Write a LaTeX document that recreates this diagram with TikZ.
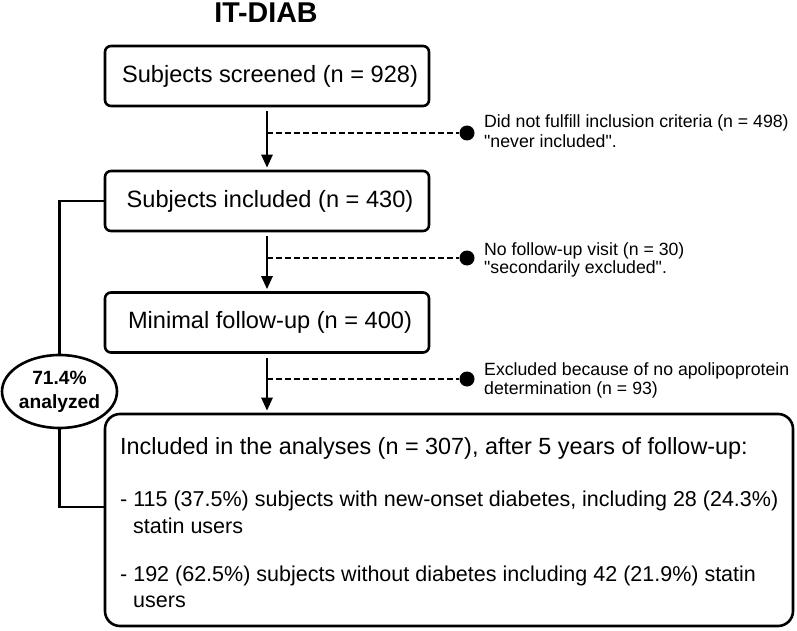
\documentclass[tikz,border=0pt]{standalone}
\usepackage{fontspec}
\setmainfont{Liberation Sans}
\usetikzlibrary{arrows.meta,shapes.geometric}
\begin{document}
\begin{tikzpicture}[x=1pt,y=-1pt,
 box/.style={draw,line width=2.6pt,rounded corners=6pt,minimum width=324pt,minimum height=60pt,inner sep=0pt,font=\fontsize{23.6}{28}\selectfont},
 flow/.style={line width=2.6pt,-{Triangle[length=13pt,width=11pt]}},
 excl/.style={line width=1.4pt,dash pattern=on 5.5pt off 3.5pt},
 dot/.style={circle,fill,inner sep=0pt,minimum size=15pt},
 side/.style={anchor=base west,inner sep=0pt,font=\fontsize{17.7}{20}\selectfont},
 big/.style={anchor=base west,inner sep=0pt,font=\fontsize{23.4}{28}\selectfont},
 item/.style={anchor=base west,inner sep=0pt,font=\fontsize{21.5}{26}\selectfont},
 link/.style={line width=2.6pt}]
\useasboundingbox (0,0) rectangle (797,631);
\node[anchor=base,font=\bfseries\fontsize{28.6}{32}\selectfont,inner sep=0pt] (title) at (266,22.7) {IT-DIAB};
\node[box] (b1) at (267,76) {\hspace*{6pt}Subjects screened (n = 928)};
\node[box] (b2) at (267,201) {\hspace*{6pt}Subjects included (n = 430)};
\node[box] (b3) at (267,322.5) {\hspace*{6pt}Minimal follow-up (n = 400)};
\node[draw,line width=2.6pt,rounded corners=15pt,minimum width=688pt,minimum height=212pt,inner sep=0pt] (b4) at (449,520) {};
\node[big] (t0) at (120,454) {Included in the analyses (n = 307), after 5 years of follow-up:};
\node[item] (t1) at (120,506) {- 115 (37.5\%) subjects with new-onset diabetes, including 28 (24.3\%)};
\node[item] (t1b) at (133,533) {statin users};
\node[item] (t2) at (120,581.7) {- 192 (62.5\%) subjects without diabetes including 42 (21.9\%) statin};
\node[item] (t2b) at (133,607) {users};
% main flow
\draw[flow,shorten <=4pt,shorten >=2pt] (b1.south) -- (b2.north);
\draw[flow,shorten <=4pt,shorten >=2pt] (b2.south) -- (b3.north);
\draw[flow,shorten <=4pt,shorten >=2pt] (b3.south) -- (b4.north -| b3.south);
% exclusions
\coordinate (j1) at (267,133);
\coordinate (j2) at (267,258);
\coordinate (j3) at (267,379);
\node[dot] (d1) at (467,133) {};
\node[dot] (d2) at (467,258) {};
\node[dot] (d3) at (467,379) {};
\draw[excl] (j1) -- (d1);
\draw[excl] (j2) -- (d2);
\draw[excl] (j3) -- (d3);
\node[side] (s1a) at (484,128) {Did not fulfill inclusion criteria (n = 498)};
\node[side] (s1b) at (484,147.5) {\textquotedbl never included\textquotedbl.};
\node[side] (s2a) at (484,255) {No follow-up visit (n = 30)};
\node[side] (s2b) at (484,273.5) {\textquotedbl secondarily excluded\textquotedbl.};
\node[side] (s3a) at (484,375) {Excluded because of no apolipoprotein};
\node[side] (s3b) at (484,394) {determination (n = 93)};
% bracket with ellipse
\node[ellipse,draw,line width=2.6pt,minimum width=115pt,minimum height=73pt,inner sep=0pt,align=center,font=\bfseries\fontsize{19.2}{24}\selectfont] (ell) at (59.5,391.5) {71.4\%\\analyzed};
\coordinate (k) at (105,507);
\draw[link] (b2.west) -| (ell.north);
\draw[link] (ell.south) |- (k);
\end{tikzpicture}
\end{document}
